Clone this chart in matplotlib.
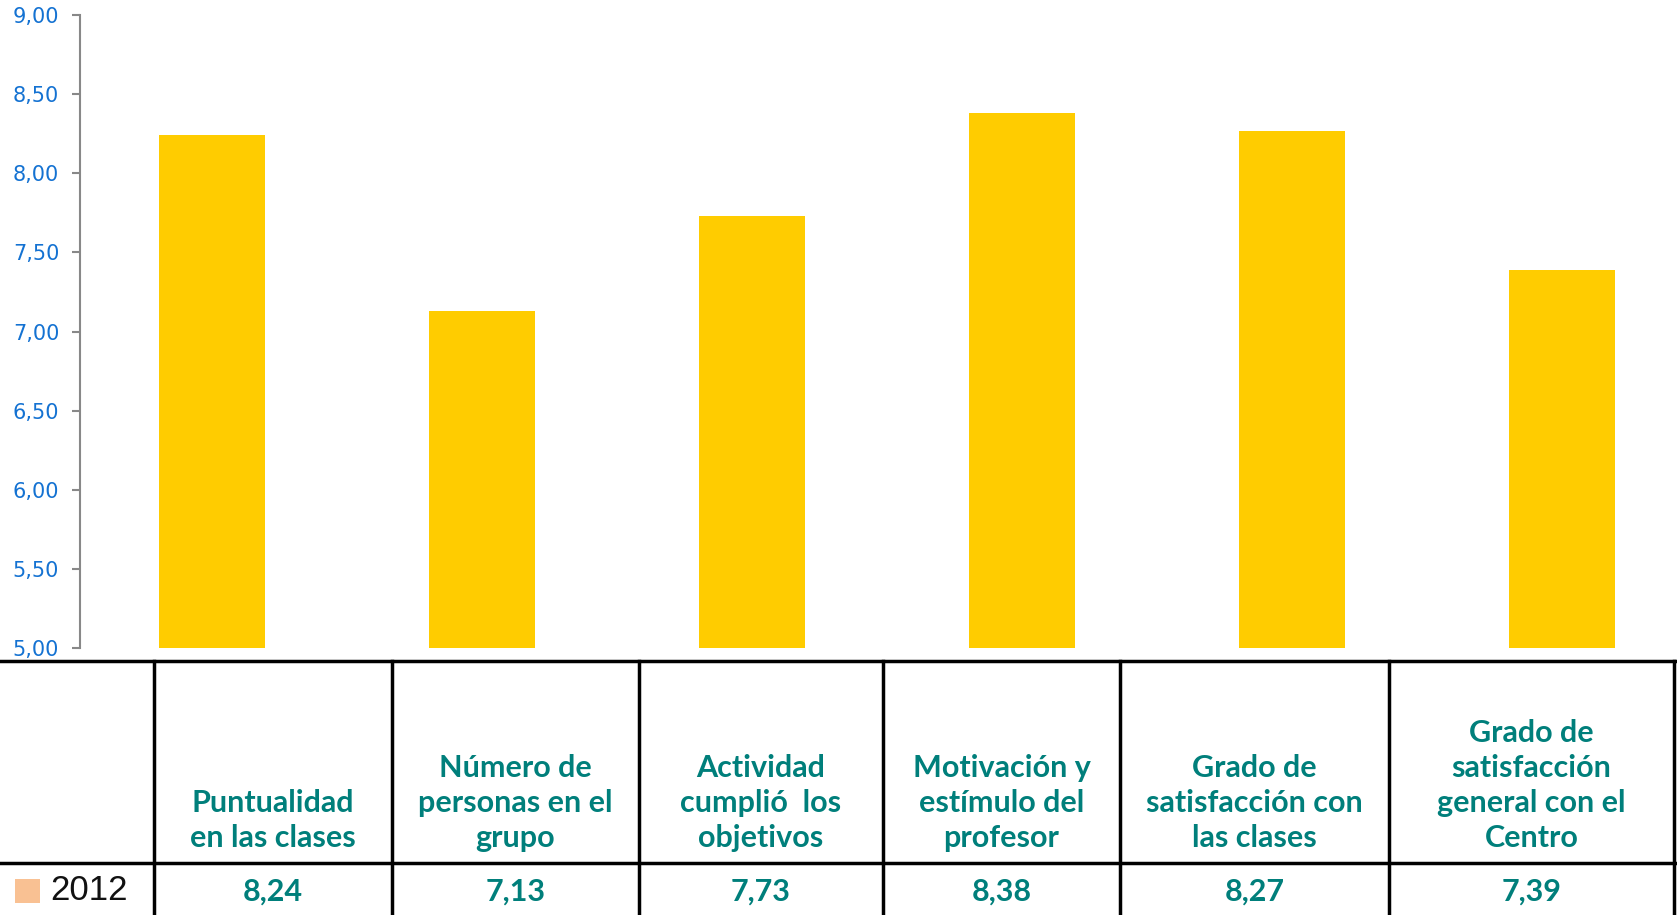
import matplotlib
matplotlib.use("Agg")
import matplotlib.pyplot as plt
from matplotlib.lines import Line2D
from matplotlib.patches import Rectangle

categories = [
    "Puntualidad\nen las clases",
    "Número de\npersonas en el\ngrupo",
    "Actividad\ncumplió  los\nobjetivos",
    "Motivación y\nestímulo del\nprofesor",
    "Grado de\nsatisfacción con\nlas clases",
    "Grado de\nsatisfacción\ngeneral con el\nCentro",
]
values_2012 = [8.24, 7.13, 7.73, 8.38, 8.27, 7.39]
value_labels = ["8,24", "7,13", "7,73", "8,38", "8,27", "7,39"]
series_name = "2012"
yticks = [5.0, 5.5, 6.0, 6.5, 7.0, 7.5, 8.0, 8.5, 9.0]
ytick_labels = ["5,00", "5,50", "6,00", "6,50", "7,00", "7,50", "8,00", "8,50", "9,00"]

W, H = 1677, 915
fig = plt.figure(figsize=(W / 100, H / 100), dpi=100)

def fx(px):
    return px / W

def fy(py):
    return 1 - py / H

BAR = "#FFCC00"
TEAL = "#007F7B"
BLUE = "#1472D2"

ax = fig.add_axes([fx(80), fy(648), 1 - fx(80), fy(15) - fy(648)])
x = list(range(len(values_2012)))
ax.bar(x, [v - 5 for v in values_2012], bottom=5, width=0.396, color=BAR)
ax.set_ylim(5, 9)
ax.set_xlim(-0.489, 5.426)
ax.set_yticks(yticks)
ax.set_yticklabels(ytick_labels, color=BLUE, fontsize=15, family="DejaVu Sans")
ax.tick_params(axis="y", direction="out", length=6, width=1.5, color="#888888", pad=9)
ax.set_xticks([])
for s in ["top", "right", "bottom"]:
    ax.spines[s].set_visible(False)
ax.spines["left"].set_color("#888888")
ax.spines["left"].set_linewidth(1.5)

# table
lw = 2.5
for yy in [661, 863]:
    fig.add_artist(Line2D([0, 1], [fy(yy), fy(yy)], color="black", lw=lw))
cols = [154, 392, 639, 883, 1120, 1389, 1674]
for xx in cols:
    fig.add_artist(Line2D([fx(xx), fx(xx)], [fy(661), 0], color="black", lw=lw))

hdr_font = ["Lato", "DejaVu Sans"]
for i, cat in enumerate(categories):
    cx = (cols[i] + cols[i + 1]) / 2
    fig.text(fx(cx), fy(852), cat, ha="center", va="bottom", color=TEAL,
             fontsize=22, fontweight="bold", family=hdr_font, linespacing=1.3,
             multialignment="center")
    fig.text(fx(cx), fy(892), value_labels[i], ha="center", va="center", color=TEAL,
             fontsize=22, fontweight="bold", family=hdr_font)

fig.add_artist(Rectangle((fx(15), fy(903)), fx(25), fy(879) - fy(903),
                         transform=fig.transFigure, color="#F9C193", lw=0))
fig.text(fx(50), fy(891), series_name, ha="left", va="center", color="#111111",
         fontsize=25, family="Liberation Sans")

fig.savefig("out.png", dpi=100)
